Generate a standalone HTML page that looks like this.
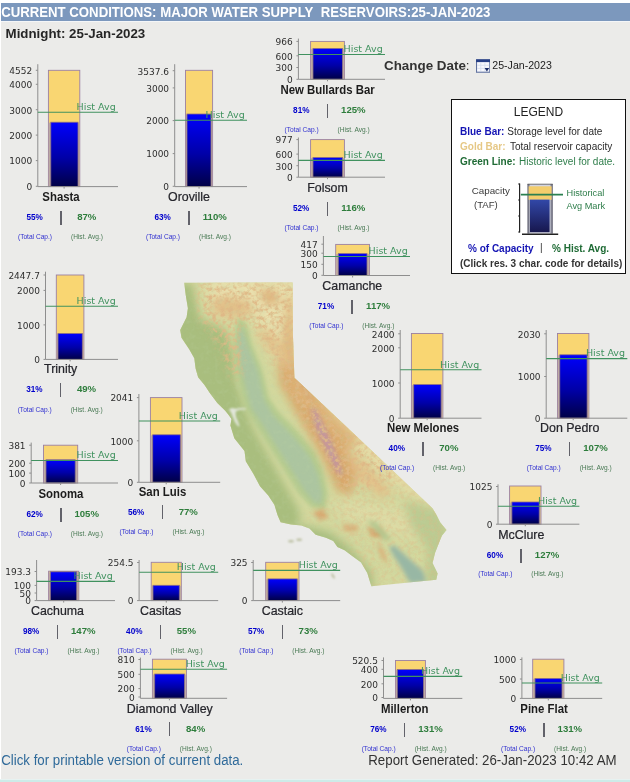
<!DOCTYPE html>
<html lang="en"><head><meta charset="utf-8"><title>Current Conditions: Major Water Supply Reservoirs</title>
<style>
html,body{margin:0;padding:0}
body{width:630px;height:782px;position:relative;overflow:hidden;background:#fff;font-family:"Liberation Sans",sans-serif;color:#222}
#pg{position:absolute;left:1px;top:3px;width:629px;height:777px;background:#ebebe9}
#bot{position:absolute;left:0;top:778.8px;width:630px;height:3.2px;background:linear-gradient(#e6f2f1 0,#e6f2f1 0.9px,#cdebe8 0.9px)}
#hd{position:absolute;left:1px;top:3px;width:629px;height:18px;background:#7c98bd;color:#fff;font-weight:bold;font-size:13.2px;line-height:18px;white-space:nowrap}
#hd span{display:inline-block;transform:scaleY(1.11);transform-origin:0 22%;padding-left:0.2px}
#hl{position:absolute;left:1px;top:21px;width:629px;height:1px;background:#f4f6f8}
#mid{position:absolute;left:5.6px;top:25.5px;font-weight:bold;font-size:13.3px;line-height:16px;white-space:nowrap;color:#262626}
.abs{position:absolute;white-space:nowrap}
.nm,.pc,.ph,.lc,.lh{position:absolute;white-space:nowrap;transform:translate(-50%,-50%);line-height:1}
.nm{font-size:11.4px;font-weight:bold;color:#1c1c1c}
.nm.b{transform:translate(-50%,-50%) scaleY(1.1)}
.nm.r{font-weight:normal;font-size:12.4px;color:#26262c;-webkit-text-stroke:0.22px #26262c}
.pc{font-size:8.2px;font-weight:bold;color:#0000cc}
.ph{font-size:9.6px;font-weight:bold;color:#2e7d3c}
.lc{font-size:6.6px;color:#3030d0}
.lh{font-size:6.6px;color:#4a7a55}
.sep{position:absolute;width:1.5px;height:14px;background:#62626a}
svg text.tk{font-family:"DejaVu Sans",sans-serif;font-size:9px;fill:#2e2e2e;text-anchor:end}
svg text.ha{font-family:"DejaVu Sans",sans-serif;font-size:9.5px;fill:#40925f;text-anchor:end}
#lg{position:absolute;left:451px;top:99px;width:173px;height:173px;border:1.3px solid #111;background:#fff}
#lg div{position:absolute;white-space:nowrap;line-height:1}
</style></head><body>
<div id="pg"></div>
<div id="hd"><span>CURRENT CONDITIONS: MAJOR WATER SUPPLY&nbsp; RESERVOIRS:25-JAN-2023</span></div>
<div id="hl"></div>
<div id="mid">Midnight: 25-Jan-2023</div>
<svg id="map" width="290" height="320" viewBox="170 275 290 320" style="position:absolute;left:170px;top:275px">
<defs>
<clipPath id="ca"><path id="cao" d="M184.2 282.8L292.7 282.5L293 337L294.4 377.8L340.4 421L432.5 508.2L436.5 515L440.1 522.2L446.5 529.9L442 535.5L440.1 540.1L435 552.9L432.5 563.1L437.6 573.4L436.3 579.7L371.4 586.3L370.4 583.2L367.3 572.9L361.1 562.5L352.9 556.4L344.6 550.2L337.4 547.1L333.3 540.9L326 537.8L315.7 534.7L309.5 528.5L301.3 525.4L291 524.4L280.6 522.3L277.5 515.1L274.4 504.8L268.3 495.5L260 486.2L253.5 474.1L245.8 461.3L244.5 451.1L234.3 438.3L230.4 425.6L231.5 419L228.3 414.4L225 410.6L217.3 402.9L209.6 392.7L204.5 385L198.1 377.3L195.6 368.4L194.3 358.2L189.2 349.2L181.5 337.7L180.2 330.1L186.6 317.3L187.9 308.3L185.8 295.6Z"/></clipPath>
<filter id="b3" x="-30%" y="-30%" width="160%" height="160%"><feGaussianBlur stdDeviation="2.2"/></filter>
<filter id="b5" x="-30%" y="-30%" width="160%" height="160%"><feGaussianBlur stdDeviation="4"/></filter>
<filter id="b8" x="-30%" y="-30%" width="160%" height="160%"><feGaussianBlur stdDeviation="7"/></filter>
<filter id="b2" x="-30%" y="-30%" width="160%" height="160%"><feGaussianBlur stdDeviation="0.9"/></filter>
<filter id="tx" x="0" y="0" width="100%" height="100%"><feTurbulence type="fractalNoise" baseFrequency="0.24" numOctaves="3" seed="11"/><feColorMatrix type="matrix" values="0 0 0 0 0.74  0 0 0 0 0.48  0 0 0 0 0.24  3 0 0 0 -1.25"/></filter>
<filter id="tg" x="0" y="0" width="100%" height="100%"><feTurbulence type="fractalNoise" baseFrequency="0.2" numOctaves="2" seed="3"/><feColorMatrix type="matrix" values="0 0 0 0 0.52  0 0 0 0 0.66  0 0 0 0 0.38  0 2.4 0 0 -1.1"/></filter>
<mask id="mm"><g filter="url(#b5)">
<path fill="#fff" d="M196 283L296 283L296 378L345 425L400 476L390 492L360 500L345 498L322 455L298 415L280 380L262 340L248 322L238 330L244 372L232 380L215 340L200 320Z"/>
<path fill="#666" d="M330 500L400 476L436 510L446 530L436 580L372 586L350 550L330 520L300 520Z"/>
</g></mask>
</defs>
<g clip-path="url(#ca)">
<rect x="170" y="275" width="290" height="320" fill="#d3d89e"/>
<!-- pale tan regions -->
<g filter="url(#b8)">
<path d="M205 278L300 278L300 380L285 372L262 330L248 310L224 316L208 300Z" fill="#e9e0ae"/>
<path d="M264 338L300 380L345 440L372 470L420 500L450 520L450 470L300 340Z" fill="#e6dba6"/>
<path d="M335 498L380 505L430 520L430 540L380 530L338 515Z" fill="#dedca6"/>
</g>
<!-- coast green -->
<g filter="url(#b5)">
<path d="M176 283L192 283L200 318L226 330L234 352L236 380L244 404L254 430L272 462L290 494L300 512L298 530L270 525L240 470L220 420L195 385L174 340Z" fill="#a9be7e"/>
<path d="M300 524L330 532L350 547L372 572L374 590L360 590L340 557L300 537Z" fill="#a8be80"/>
<path d="M404 500L440 510L452 540L440 585L424 588L428 550L410 525Z" fill="#bccb92"/>
</g>
<!-- valley outer green -->
<g filter="url(#b3)">
<path d="M237.5 316L234 346L236 372L242 397L246 410L257 428L271 450L285 472L298 493L311 507L325 510L327.5 494L323 470L315 452L298 432L278 411L268.5 397L262.5 371L252 345L246 323Z" fill="#b5cb8e"/>
</g>
<!-- mountains orange -->
<g filter="url(#b5)">
<path d="M276 346L292 350L316 390L342 426L358 466L352 494L338 492L322 456L298 416L280 384Z" fill="#d9a86a"/><path d="M284 318L294 314L296 378L330 412L360 440L350 446L318 420L292 392L284 360Z" fill="#deb276"/>
<path d="M209 302L225 296L248 301L256 311L246 315L228 318L214 313Z" fill="#e2c088"/>
<path d="M257 291L275 290L280 302L268 305Z" fill="#deb279"/>
<path d="M285 300L293 296L296 350L290 340Z" fill="#e2bc82"/>
<path d="M256 328L272 332L288 352L290 370L278 360L262 342Z" fill="#e3c48c"/>
<path d="M342 442L372 470L392 492L382 498L358 480Z" fill="#e3c28a"/>
</g>
<g filter="url(#b3)">
<path d="M310.5 408L316.5 410L330 438L339 460L343 476L337.5 474L326.5 452L315.5 428Z" fill="#c5969c"/>
<path d="M298 376L305 382L314 404L308 400Z" fill="#d8aa76"/>
<path d="M313 512L322 509L329 516L320 521Z" fill="#d8a870"/>
<path d="M342 525L356 525L359 531L345 531Z" fill="#daac74"/>
<path d="M367 527L381 529L385 537L372 537Z" fill="#d6a066"/>
<path d="M376 542L383 549L388 564L382 559Z" fill="#d8b078"/>
<path d="M239 342L244 349L247 368L242 362Z" fill="#dcc48e"/>
</g>
<!-- central valley inner -->
<g filter="url(#b3)">
<path d="M239.5 326L238 346L241 370L247.5 395L251 408L262 424L276 446L290 468L304 490L314 502L321 504L322.5 494L318 474L309.5 456L293 436L273 415L264 399L258.5 372L249 348L243.5 331Z" fill="#acc5a0"/>
</g>
<rect x="170" y="275" width="290" height="320" filter="url(#tx)" opacity="0.95" mask="url(#mm)"/>
<rect x="170" y="275" width="290" height="320" filter="url(#tg)" opacity="0.22"/>
<!-- salton trough -->
<g filter="url(#b3)">
<path d="M389 546L395 546L406 556L423 571L426 582L410 583L401 567L392 553Z" fill="#98b7a4"/>
<path d="M366 520L376 522L392 540L384 540Z" fill="#b4c890"/>
</g>
<!-- SF bay -->
<g filter="url(#b2)">
<path d="M229 409.3L232 408L236 408.8L240 408L246 408.2L246 409.4L240 409.8L236.5 411L235.5 412.5L236 417L238 421.5L239.5 426L238.3 426.5L235.3 422.5L233 417.5L231.3 413Z" fill="#e2e6da"/>
</g>
</g>
<g filter="url(#b2)" fill="#bcc0a2"><ellipse cx="291" cy="541.3" rx="3" ry="1.3"/><ellipse cx="299.2" cy="539.8" rx="3" ry="1.3"/><ellipse cx="333" cy="576" rx="1.2" ry="3" transform="rotate(-30 333 576)"/></g>
</svg>

<svg id="ch" width="630" height="782" viewBox="0 0 630 782" style="position:absolute;left:0;top:0">
<defs><linearGradient id="bg" x1="0" y1="0" x2="0" y2="1"><stop offset="0" stop-color="#0202fc"/><stop offset="0.1" stop-color="#0000ee"/><stop offset="0.55" stop-color="#0000a8"/><stop offset="1" stop-color="#000046"/></linearGradient></defs>
<g><rect x="48.4" y="70.3" width="31.4" height="116.3" fill="#f9d672" stroke="#9b80a2" stroke-width="0.9"/><rect x="48.8" y="122.7" width="30.6" height="63.9" fill="#b3a3ab" opacity="0.85"/><rect x="50.8" y="122.2" width="27.2" height="64.4" fill="url(#bg)" stroke="#8a6e86" stroke-width="0.8"/><path d="M37.8 64.2V186.6H118" fill="none" stroke="#8e8e8e" stroke-width="1"/><path d="M64.1 186.6v2" stroke="#8e8e8e" stroke-width="1"/><path d="M35.8 70.3h2" stroke="#8e8e8e" stroke-width="1"/><text class="tk" x="32.2" y="74.1">4552</text><path d="M35.8 84.3h2" stroke="#8e8e8e" stroke-width="1"/><text class="tk" x="32.2" y="88.1">4000</text><path d="M35.8 109.7h2" stroke="#8e8e8e" stroke-width="1"/><text class="tk" x="32.2" y="113.5">3000</text><path d="M35.8 135.1h2" stroke="#8e8e8e" stroke-width="1"/><text class="tk" x="32.2" y="138.9">2000</text><path d="M35.8 160.6h2" stroke="#8e8e8e" stroke-width="1"/><text class="tk" x="32.2" y="164.4">1000</text><path d="M35.8 186.3h2" stroke="#8e8e8e" stroke-width="1"/><text class="tk" x="32.2" y="190.1">0</text><path d="M37.8 112.3H118" stroke="#40925f" stroke-width="1.1"/><text class="ha" x="115.7" y="110">Hist Avg</text></g>
<g><rect x="185.5" y="70.3" width="27.1" height="116.3" fill="#f9d672" stroke="#9b80a2" stroke-width="0.9"/><rect x="185.9" y="114.5" width="26.3" height="72.1" fill="#b3a3ab" opacity="0.85"/><rect x="187" y="114" width="24" height="72.6" fill="url(#bg)" stroke="#8a6e86" stroke-width="0.8"/><path d="M174.7 64.2V186.6H247" fill="none" stroke="#8e8e8e" stroke-width="1"/><path d="M199.05 186.6v2" stroke="#8e8e8e" stroke-width="1"/><path d="M172.7 70.7h2" stroke="#8e8e8e" stroke-width="1"/><text class="tk" x="169.1" y="74.5">3537.6</text><path d="M172.7 87.9h2" stroke="#8e8e8e" stroke-width="1"/><text class="tk" x="169.1" y="91.7">3000</text><path d="M172.7 120.6h2" stroke="#8e8e8e" stroke-width="1"/><text class="tk" x="169.1" y="124.4">2000</text><path d="M172.7 153.6h2" stroke="#8e8e8e" stroke-width="1"/><text class="tk" x="169.1" y="157.4">1000</text><path d="M172.7 186.3h2" stroke="#8e8e8e" stroke-width="1"/><text class="tk" x="169.1" y="190.1">0</text><path d="M174.7 120.3H247" stroke="#40925f" stroke-width="1.1"/><text class="ha" x="244.7" y="118">Hist Avg</text></g>
<g><rect x="310.6" y="41.4" width="33.8" height="37.9" fill="#f9d672" stroke="#9b80a2" stroke-width="0.9"/><rect x="311" y="48.9" width="33" height="30.4" fill="#b3a3ab" opacity="0.85"/><rect x="313" y="48.4" width="29.4" height="30.9" fill="url(#bg)" stroke="#8a6e86" stroke-width="0.8"/><path d="M298.4 38.6V79.3H385" fill="none" stroke="#8e8e8e" stroke-width="1"/><path d="M327.5 79.3v2" stroke="#8e8e8e" stroke-width="1"/><path d="M296.4 41.4h2" stroke="#8e8e8e" stroke-width="1"/><text class="tk" x="292.8" y="45.2">966</text><path d="M296.4 55.8h2" stroke="#8e8e8e" stroke-width="1"/><text class="tk" x="292.8" y="59.6">600</text><path d="M296.4 67.5h2" stroke="#8e8e8e" stroke-width="1"/><text class="tk" x="292.8" y="71.3">300</text><path d="M296.4 79.3h2" stroke="#8e8e8e" stroke-width="1"/><text class="tk" x="292.8" y="83.1">0</text><path d="M298.4 54.5H385" stroke="#40925f" stroke-width="1.1"/><text class="ha" x="382.7" y="52.2">Hist Avg</text></g>
<g><rect x="310.6" y="139.6" width="33.8" height="37.6" fill="#f9d672" stroke="#9b80a2" stroke-width="0.9"/><rect x="311" y="158" width="33" height="19.2" fill="#b3a3ab" opacity="0.85"/><rect x="313" y="157.5" width="29.4" height="19.7" fill="url(#bg)" stroke="#8a6e86" stroke-width="0.8"/><path d="M298.4 137.5V177.2H385" fill="none" stroke="#8e8e8e" stroke-width="1"/><path d="M327.5 177.2v2" stroke="#8e8e8e" stroke-width="1"/><path d="M296.4 139.6h2" stroke="#8e8e8e" stroke-width="1"/><text class="tk" x="292.8" y="143.4">977</text><path d="M296.4 154.1h2" stroke="#8e8e8e" stroke-width="1"/><text class="tk" x="292.8" y="157.9">600</text><path d="M296.4 165.7h2" stroke="#8e8e8e" stroke-width="1"/><text class="tk" x="292.8" y="169.5">300</text><path d="M296.4 177.2h2" stroke="#8e8e8e" stroke-width="1"/><text class="tk" x="292.8" y="181">0</text><path d="M298.4 160.4H385" stroke="#40925f" stroke-width="1.1"/><text class="ha" x="382.7" y="158.1">Hist Avg</text></g>
<g><rect x="335.7" y="244.4" width="33.8" height="31.1" fill="#f9d672" stroke="#9b80a2" stroke-width="0.9"/><rect x="336.1" y="254.1" width="33" height="21.4" fill="#b3a3ab" opacity="0.85"/><rect x="338.3" y="253.6" width="28.7" height="21.9" fill="url(#bg)" stroke="#8a6e86" stroke-width="0.8"/><path d="M323.4 236V275.5H410" fill="none" stroke="#8e8e8e" stroke-width="1"/><path d="M352.6 275.5v2" stroke="#8e8e8e" stroke-width="1"/><path d="M321.4 244.2h2" stroke="#8e8e8e" stroke-width="1"/><text class="tk" x="317.8" y="248">417</text><path d="M321.4 253.2h2" stroke="#8e8e8e" stroke-width="1"/><text class="tk" x="317.8" y="257">300</text><path d="M321.4 264.3h2" stroke="#8e8e8e" stroke-width="1"/><text class="tk" x="317.8" y="268.1">150</text><path d="M321.4 275.3h2" stroke="#8e8e8e" stroke-width="1"/><text class="tk" x="317.8" y="279.1">0</text><path d="M323.4 256.5H410" stroke="#40925f" stroke-width="1.1"/><text class="ha" x="407.7" y="254.2">Hist Avg</text></g>
<g><rect x="56.3" y="275" width="27.6" height="84.4" fill="#f9d672" stroke="#9b80a2" stroke-width="0.9"/><rect x="56.7" y="334" width="26.8" height="25.4" fill="#b3a3ab" opacity="0.85"/><rect x="58" y="333.5" width="24.3" height="25.9" fill="url(#bg)" stroke="#8a6e86" stroke-width="0.8"/><path d="M45.5 271.7V359.4H118" fill="none" stroke="#8e8e8e" stroke-width="1"/><path d="M70.1 359.4v2" stroke="#8e8e8e" stroke-width="1"/><path d="M43.5 275h2" stroke="#8e8e8e" stroke-width="1"/><text class="tk" x="39.9" y="278.8">2447.7</text><path d="M43.5 290.4h2" stroke="#8e8e8e" stroke-width="1"/><text class="tk" x="39.9" y="294.2">2000</text><path d="M43.5 324.9h2" stroke="#8e8e8e" stroke-width="1"/><text class="tk" x="39.9" y="328.7">1000</text><path d="M43.5 359.4h2" stroke="#8e8e8e" stroke-width="1"/><text class="tk" x="39.9" y="363.2">0</text><path d="M45.5 306.3H118" stroke="#40925f" stroke-width="1.1"/><text class="ha" x="115.7" y="304">Hist Avg</text></g>
<g><rect x="43.5" y="445.2" width="34.2" height="37.8" fill="#f9d672" stroke="#9b80a2" stroke-width="0.9"/><rect x="43.9" y="460.3" width="33.4" height="22.7" fill="#b3a3ab" opacity="0.85"/><rect x="46" y="459.8" width="29.2" height="23.2" fill="url(#bg)" stroke="#8a6e86" stroke-width="0.8"/><path d="M31.2 442.6V483H118" fill="none" stroke="#8e8e8e" stroke-width="1"/><path d="M60.6 483v2" stroke="#8e8e8e" stroke-width="1"/><path d="M29.2 445.2h2" stroke="#8e8e8e" stroke-width="1"/><text class="tk" x="25.6" y="449">381</text><path d="M29.2 463.2h2" stroke="#8e8e8e" stroke-width="1"/><text class="tk" x="25.6" y="467">200</text><path d="M29.2 473.1h2" stroke="#8e8e8e" stroke-width="1"/><text class="tk" x="25.6" y="476.9">100</text><path d="M29.2 483h2" stroke="#8e8e8e" stroke-width="1"/><text class="tk" x="25.6" y="486.8">0</text><path d="M31.2 460.5H118" stroke="#40925f" stroke-width="1.1"/><text class="ha" x="115.7" y="458.2">Hist Avg</text></g>
<g><rect x="150.4" y="397.6" width="31.6" height="84.7" fill="#f9d672" stroke="#9b80a2" stroke-width="0.9"/><rect x="150.8" y="435.3" width="30.8" height="47" fill="#b3a3ab" opacity="0.85"/><rect x="152.7" y="434.8" width="27.6" height="47.5" fill="url(#bg)" stroke="#8a6e86" stroke-width="0.8"/><path d="M138.9 394V482.3H220.2" fill="none" stroke="#8e8e8e" stroke-width="1"/><path d="M166.2 482.3v2" stroke="#8e8e8e" stroke-width="1"/><path d="M136.9 397.6h2" stroke="#8e8e8e" stroke-width="1"/><text class="tk" x="133.3" y="401.4">2041</text><path d="M136.9 440.8h2" stroke="#8e8e8e" stroke-width="1"/><text class="tk" x="133.3" y="444.6">1000</text><path d="M136.9 482.3h2" stroke="#8e8e8e" stroke-width="1"/><text class="tk" x="133.3" y="486.1">0</text><path d="M138.9 421H220.2" stroke="#40925f" stroke-width="1.1"/><text class="ha" x="217.9" y="418.7">Hist Avg</text></g>
<g><rect x="48.6" y="571.2" width="30.2" height="29.4" fill="#f9d672" stroke="#9b80a2" stroke-width="0.9"/><rect x="49" y="572.3" width="29.4" height="28.3" fill="#b3a3ab" opacity="0.85"/><rect x="50.4" y="571.8" width="26.3" height="28.8" fill="url(#bg)" stroke="#8a6e86" stroke-width="0.8"/><path d="M36.6 560V600.6H115" fill="none" stroke="#8e8e8e" stroke-width="1"/><path d="M63.7 600.6v2" stroke="#8e8e8e" stroke-width="1"/><path d="M34.6 571.5h2" stroke="#8e8e8e" stroke-width="1"/><text class="tk" x="31" y="575.3">193.3</text><path d="M34.6 585.4h2" stroke="#8e8e8e" stroke-width="1"/><text class="tk" x="31" y="589.2">100</text><path d="M34.6 593h2" stroke="#8e8e8e" stroke-width="1"/><text class="tk" x="31" y="596.8">50</text><path d="M34.6 600.6h2" stroke="#8e8e8e" stroke-width="1"/><text class="tk" x="31" y="604.4">0</text><path d="M36.6 581.4H115" stroke="#40925f" stroke-width="1.1"/><text class="ha" x="112.7" y="579.1">Hist Avg</text></g>
<g><rect x="151.2" y="562.3" width="30.1" height="38.3" fill="#f9d672" stroke="#9b80a2" stroke-width="0.9"/><rect x="151.6" y="585.8" width="29.3" height="14.8" fill="#b3a3ab" opacity="0.85"/><rect x="153" y="585.3" width="26.3" height="15.3" fill="url(#bg)" stroke="#8a6e86" stroke-width="0.8"/><path d="M139.1 560V600.6H218.2" fill="none" stroke="#8e8e8e" stroke-width="1"/><path d="M166.25 600.6v2" stroke="#8e8e8e" stroke-width="1"/><path d="M137.1 562.5h2" stroke="#8e8e8e" stroke-width="1"/><text class="tk" x="133.5" y="566.3">254.5</text><path d="M137.1 600.6h2" stroke="#8e8e8e" stroke-width="1"/><text class="tk" x="133.5" y="604.4">0</text><path d="M139.1 572.2H218.2" stroke="#40925f" stroke-width="1.1"/><text class="ha" x="215.9" y="569.9">Hist Avg</text></g>
<g><rect x="265.7" y="562.3" width="33.3" height="38.3" fill="#f9d672" stroke="#9b80a2" stroke-width="0.9"/><rect x="266.1" y="579.4" width="32.5" height="21.2" fill="#b3a3ab" opacity="0.85"/><rect x="268" y="578.9" width="29.2" height="21.7" fill="url(#bg)" stroke="#8a6e86" stroke-width="0.8"/><path d="M253.2 560V600.6H340.2" fill="none" stroke="#8e8e8e" stroke-width="1"/><path d="M282.35 600.6v2" stroke="#8e8e8e" stroke-width="1"/><path d="M251.2 562.5h2" stroke="#8e8e8e" stroke-width="1"/><text class="tk" x="247.6" y="566.3">325</text><path d="M251.2 600.6h2" stroke="#8e8e8e" stroke-width="1"/><text class="tk" x="247.6" y="604.4">0</text><path d="M253.2 570.4H340.2" stroke="#40925f" stroke-width="1.1"/><text class="ha" x="337.9" y="568.1">Hist Avg</text></g>
<g><rect x="152.4" y="659.2" width="34" height="39.1" fill="#f9d672" stroke="#9b80a2" stroke-width="0.9"/><rect x="152.8" y="674.5" width="33.2" height="23.8" fill="#b3a3ab" opacity="0.85"/><rect x="154.7" y="674" width="29.7" height="24.3" fill="url(#bg)" stroke="#8a6e86" stroke-width="0.8"/><path d="M140.4 657.6V698.3H227.1" fill="none" stroke="#8e8e8e" stroke-width="1"/><path d="M169.4 698.3v2" stroke="#8e8e8e" stroke-width="1"/><path d="M138.4 659.5h2" stroke="#8e8e8e" stroke-width="1"/><text class="tk" x="134.8" y="663.3">810</text><path d="M138.4 674.3h2" stroke="#8e8e8e" stroke-width="1"/><text class="tk" x="134.8" y="678.1">500</text><path d="M138.4 688.6h2" stroke="#8e8e8e" stroke-width="1"/><text class="tk" x="134.8" y="692.4">200</text><path d="M138.4 697h2" stroke="#8e8e8e" stroke-width="1"/><text class="tk" x="134.8" y="700.8">0</text><path d="M140.4 669.2H227.1" stroke="#40925f" stroke-width="1.1"/><text class="ha" x="224.8" y="666.9">Hist Avg</text></g>
<g><rect x="411.4" y="333.5" width="31.5" height="84.7" fill="#f9d672" stroke="#9b80a2" stroke-width="0.9"/><rect x="411.8" y="385.1" width="30.7" height="33.1" fill="#b3a3ab" opacity="0.85"/><rect x="413.7" y="384.6" width="27.4" height="33.6" fill="url(#bg)" stroke="#8a6e86" stroke-width="0.8"/><path d="M400.2 330V418.2H481.5" fill="none" stroke="#8e8e8e" stroke-width="1"/><path d="M427.15 418.2v2" stroke="#8e8e8e" stroke-width="1"/><path d="M398.2 333.8h2" stroke="#8e8e8e" stroke-width="1"/><text class="tk" x="394.6" y="337.6">2400</text><path d="M398.2 347.8h2" stroke="#8e8e8e" stroke-width="1"/><text class="tk" x="394.6" y="351.6">2000</text><path d="M398.2 383h2" stroke="#8e8e8e" stroke-width="1"/><text class="tk" x="394.6" y="386.8">1000</text><path d="M398.2 418.2h2" stroke="#8e8e8e" stroke-width="1"/><text class="tk" x="394.6" y="422">0</text><path d="M400.2 369.8H481.5" stroke="#40925f" stroke-width="1.1"/><text class="ha" x="479.2" y="367.5">Hist Avg</text></g>
<g><rect x="557.5" y="333.5" width="31.4" height="84.7" fill="#f9d672" stroke="#9b80a2" stroke-width="0.9"/><rect x="557.9" y="355.3" width="30.6" height="62.9" fill="#b3a3ab" opacity="0.85"/><rect x="559.8" y="354.8" width="27.3" height="63.4" fill="url(#bg)" stroke="#8a6e86" stroke-width="0.8"/><path d="M546.2 330V418.2H627.3" fill="none" stroke="#8e8e8e" stroke-width="1"/><path d="M573.2 418.2v2" stroke="#8e8e8e" stroke-width="1"/><path d="M544.2 333.8h2" stroke="#8e8e8e" stroke-width="1"/><text class="tk" x="540.6" y="337.6">2030</text><path d="M544.2 376.5h2" stroke="#8e8e8e" stroke-width="1"/><text class="tk" x="540.6" y="380.3">1000</text><path d="M544.2 418.2h2" stroke="#8e8e8e" stroke-width="1"/><text class="tk" x="540.6" y="422">0</text><path d="M546.2 358.6H627.3" stroke="#40925f" stroke-width="1.1"/><text class="ha" x="625" y="356.3">Hist Avg</text></g>
<g><rect x="509.6" y="486" width="31.4" height="38.2" fill="#f9d672" stroke="#9b80a2" stroke-width="0.9"/><rect x="510" y="502.5" width="30.6" height="21.7" fill="#b3a3ab" opacity="0.85"/><rect x="511.9" y="502" width="27.3" height="22.2" fill="url(#bg)" stroke="#8a6e86" stroke-width="0.8"/><path d="M498 484.3V524.2H579.4" fill="none" stroke="#8e8e8e" stroke-width="1"/><path d="M525.3 524.2v2" stroke="#8e8e8e" stroke-width="1"/><path d="M496 486.5h2" stroke="#8e8e8e" stroke-width="1"/><text class="tk" x="492.4" y="490.3">1025</text><path d="M496 524.2h2" stroke="#8e8e8e" stroke-width="1"/><text class="tk" x="492.4" y="528">0</text><path d="M498 506.3H579.4" stroke="#40925f" stroke-width="1.1"/><text class="ha" x="577.1" y="504">Hist Avg</text></g>
<g><rect x="395.5" y="660.5" width="29.9" height="37.9" fill="#f9d672" stroke="#9b80a2" stroke-width="0.9"/><rect x="395.9" y="670" width="29.1" height="28.4" fill="#b3a3ab" opacity="0.85"/><rect x="397.3" y="669.5" width="26.1" height="28.9" fill="url(#bg)" stroke="#8a6e86" stroke-width="0.8"/><path d="M383.5 657.4V698.4H462.3" fill="none" stroke="#8e8e8e" stroke-width="1"/><path d="M410.45 698.4v2" stroke="#8e8e8e" stroke-width="1"/><path d="M381.5 660.5h2" stroke="#8e8e8e" stroke-width="1"/><text class="tk" x="377.9" y="664.3">520.5</text><path d="M381.5 669.3h2" stroke="#8e8e8e" stroke-width="1"/><text class="tk" x="377.9" y="673.1">400</text><path d="M381.5 683.8h2" stroke="#8e8e8e" stroke-width="1"/><text class="tk" x="377.9" y="687.6">200</text><path d="M381.5 697.5h2" stroke="#8e8e8e" stroke-width="1"/><text class="tk" x="377.9" y="701.3">0</text><path d="M383.5 676.4H462.3" stroke="#40925f" stroke-width="1.1"/><text class="ha" x="460" y="674.1">Hist Avg</text></g>
<g><rect x="532.7" y="659.2" width="31.2" height="39.2" fill="#f9d672" stroke="#9b80a2" stroke-width="0.9"/><rect x="533.1" y="678.9" width="30.4" height="19.5" fill="#b3a3ab" opacity="0.85"/><rect x="535" y="678.4" width="27" height="20" fill="url(#bg)" stroke="#8a6e86" stroke-width="0.8"/><path d="M521.9 657.4V698.4H602.2" fill="none" stroke="#8e8e8e" stroke-width="1"/><path d="M548.3 698.4v2" stroke="#8e8e8e" stroke-width="1"/><path d="M519.9 659.5h2" stroke="#8e8e8e" stroke-width="1"/><text class="tk" x="516.3" y="663.3">1000</text><path d="M519.9 679h2" stroke="#8e8e8e" stroke-width="1"/><text class="tk" x="516.3" y="682.8">500</text><path d="M519.9 698.4h2" stroke="#8e8e8e" stroke-width="1"/><text class="tk" x="516.3" y="702.2">0</text><path d="M521.9 683H602.2" stroke="#40925f" stroke-width="1.1"/><text class="ha" x="599.9" y="680.7">Hist Avg</text></g>
</svg>
<div class="nm b" style="left:61px;top:197.3px">Shasta</div>
<div class="pc" style="left:34.7px;top:218.1px">55%</div>
<div class="sep" style="left:60.1px;top:210.5px"></div>
<div class="ph" style="left:86.8px;top:216.9px">87%</div>
<div class="lc" style="left:35px;top:236.6px">(Total Cap.)</div>
<div class="lh" style="left:87px;top:236.6px">(Hist. Avg.)</div>
<div class="nm r" style="left:189px;top:196.8px">Oroville</div>
<div class="pc" style="left:162.7px;top:218.1px">63%</div>
<div class="sep" style="left:188.1px;top:211.1px"></div>
<div class="ph" style="left:214.8px;top:216.9px">110%</div>
<div class="lc" style="left:163px;top:236.6px">(Total Cap.)</div>
<div class="lh" style="left:215px;top:236.6px">(Hist. Avg.)</div>
<div class="nm b" style="left:327.6px;top:90px">New Bullards Bar</div>
<div class="pc" style="left:301.3px;top:110.6px">81%</div>
<div class="sep" style="left:326.7px;top:103.6px"></div>
<div class="ph" style="left:353.4px;top:110.2px">125%</div>
<div class="lc" style="left:301.6px;top:129.9px">(Total Cap.)</div>
<div class="lh" style="left:353.6px;top:129.9px">(Hist. Avg.)</div>
<div class="nm r" style="left:327.5px;top:187.5px">Folsom</div>
<div class="pc" style="left:301.2px;top:208.5px">52%</div>
<div class="sep" style="left:326.6px;top:201.5px"></div>
<div class="ph" style="left:353.3px;top:208.1px">116%</div>
<div class="lc" style="left:301.5px;top:227.8px">(Total Cap.)</div>
<div class="lh" style="left:353.5px;top:227.8px">(Hist. Avg.)</div>
<div class="nm r" style="left:352.3px;top:285.9px">Camanche</div>
<div class="pc" style="left:326px;top:306.8px">71%</div>
<div class="sep" style="left:351.4px;top:299.8px"></div>
<div class="ph" style="left:378.1px;top:306.4px">117%</div>
<div class="lc" style="left:326.3px;top:326.1px">(Total Cap.)</div>
<div class="lh" style="left:378.3px;top:326.1px">(Hist. Avg.)</div>
<div class="nm r" style="left:60.7px;top:369.1px">Trinity</div>
<div class="pc" style="left:34.4px;top:389.7px">31%</div>
<div class="sep" style="left:59.8px;top:382.8px"></div>
<div class="ph" style="left:86.5px;top:389.1px">49%</div>
<div class="lc" style="left:34.7px;top:410px">(Total Cap.)</div>
<div class="lh" style="left:86.7px;top:410px">(Hist. Avg.)</div>
<div class="nm b" style="left:60.9px;top:493.7px">Sonoma</div>
<div class="pc" style="left:34.6px;top:514.7px">62%</div>
<div class="sep" style="left:60px;top:508px"></div>
<div class="ph" style="left:86.7px;top:513.9px">105%</div>
<div class="lc" style="left:34.9px;top:533.6px">(Total Cap.)</div>
<div class="lh" style="left:86.9px;top:533.6px">(Hist. Avg.)</div>
<div class="nm b" style="left:162.5px;top:492.3px">San Luis</div>
<div class="pc" style="left:136.2px;top:512.6px">56%</div>
<div class="sep" style="left:161.6px;top:505.4px"></div>
<div class="ph" style="left:188.3px;top:512.2px">77%</div>
<div class="lc" style="left:136.5px;top:531.9px">(Total Cap.)</div>
<div class="lh" style="left:188.5px;top:531.9px">(Hist. Avg.)</div>
<div class="nm r" style="left:57.5px;top:611px">Cachuma</div>
<div class="pc" style="left:31.2px;top:631.9px">98%</div>
<div class="sep" style="left:56.6px;top:624.9px"></div>
<div class="ph" style="left:83.3px;top:630.6px">147%</div>
<div class="lc" style="left:31.5px;top:651.2px">(Total Cap.)</div>
<div class="lh" style="left:83.5px;top:651.2px">(Hist. Avg.)</div>
<div class="nm r" style="left:160.6px;top:611px">Casitas</div>
<div class="pc" style="left:134.3px;top:631.9px">40%</div>
<div class="sep" style="left:159.7px;top:624.9px"></div>
<div class="ph" style="left:186.4px;top:630.6px">55%</div>
<div class="lc" style="left:134.6px;top:651.2px">(Total Cap.)</div>
<div class="lh" style="left:186.6px;top:651.2px">(Hist. Avg.)</div>
<div class="nm r" style="left:282.4px;top:611px">Castaic</div>
<div class="pc" style="left:256.1px;top:631.9px">57%</div>
<div class="sep" style="left:281.5px;top:624.9px"></div>
<div class="ph" style="left:308.2px;top:630.6px">73%</div>
<div class="lc" style="left:256.4px;top:651.2px">(Total Cap.)</div>
<div class="lh" style="left:308.4px;top:651.2px">(Hist. Avg.)</div>
<div class="nm r" style="left:169.8px;top:708.7px">Diamond Valley</div>
<div class="pc" style="left:143.5px;top:729.6px">61%</div>
<div class="sep" style="left:168.9px;top:722.1px"></div>
<div class="ph" style="left:195.6px;top:728.7px">84%</div>
<div class="lc" style="left:143.8px;top:748.9px">(Total Cap.)</div>
<div class="lh" style="left:195.8px;top:748.9px">(Hist. Avg.)</div>
<div class="nm b" style="left:423.1px;top:427.9px">New Melones</div>
<div class="pc" style="left:396.8px;top:448.5px">40%</div>
<div class="sep" style="left:422.2px;top:441.7px"></div>
<div class="ph" style="left:448.9px;top:447.7px">70%</div>
<div class="lc" style="left:397.1px;top:467.6px">(Total Cap.)</div>
<div class="lh" style="left:449.1px;top:467.6px">(Hist. Avg.)</div>
<div class="nm r" style="left:569.7px;top:427.6px">Don Pedro</div>
<div class="pc" style="left:543.4px;top:448.5px">75%</div>
<div class="sep" style="left:568.8px;top:441.7px"></div>
<div class="ph" style="left:595.5px;top:447.7px">107%</div>
<div class="lc" style="left:543.7px;top:467.6px">(Total Cap.)</div>
<div class="lh" style="left:595.7px;top:467.6px">(Hist. Avg.)</div>
<div class="nm r" style="left:521.3px;top:534.6px">McClure</div>
<div class="pc" style="left:495px;top:555.5px">60%</div>
<div class="sep" style="left:520.4px;top:548.5px"></div>
<div class="ph" style="left:547.1px;top:555.1px">127%</div>
<div class="lc" style="left:495.3px;top:574.4px">(Total Cap.)</div>
<div class="lh" style="left:547.3px;top:574.4px">(Hist. Avg.)</div>
<div class="nm b" style="left:404.7px;top:709.1px">Millerton</div>
<div class="pc" style="left:378.4px;top:729.7px">76%</div>
<div class="sep" style="left:403.8px;top:722.7px"></div>
<div class="ph" style="left:430.5px;top:729.3px">131%</div>
<div class="lc" style="left:378.7px;top:749px">(Total Cap.)</div>
<div class="lh" style="left:430.7px;top:749px">(Hist. Avg.)</div>
<div class="nm b" style="left:544.1px;top:709.1px">Pine Flat</div>
<div class="pc" style="left:517.8px;top:729.7px">52%</div>
<div class="sep" style="left:543.2px;top:722.7px"></div>
<div class="ph" style="left:569.9px;top:729.3px">131%</div>
<div class="lc" style="left:518.1px;top:749px">(Total Cap.)</div>
<div class="lh" style="left:570.1px;top:749px">(Hist. Avg.)</div>
<div class="abs" style="left:384px;top:58px;font-size:13.4px;line-height:16px;font-weight:bold;color:#333">Change Date<span style="font-weight:normal">:</span></div>
<svg width="14.8" height="14.2" viewBox="0 0 16 15" style="position:absolute;left:475.6px;top:58.5px">
<rect x="0.6" y="0.6" width="14.3" height="13.6" fill="#f7f8fc" stroke="#5a6c9c" stroke-width="1.1"/>
<rect x="0.1" y="0.3" width="15.3" height="2.9" fill="#263f86"/>
<path d="M1.2 6.6H14.2M1.2 10H14.2M5.2 3.4V13.6M9.6 3.4V13.6" stroke="#d5ddee" stroke-width="0.9"/>
<path d="M0.6 14.2H14.9" stroke="#8492b4" stroke-width="1.1"/>
<path d="M9.3 9.6h5l-2.5 3.7z" fill="#1a2c66"/>
</svg>
<div class="abs" style="left:492.3px;top:57.7px;font-size:10.6px;line-height:14px;color:#222">25-Jan-2023</div>
<div id="lg">
<div style="left:0;width:173px;text-align:center;top:5.6px;font-size:12px;color:#222">LEGEND</div>
<div style="left:8px;top:26.6px;font-size:10px;color:#2a2a2a"><b style="color:#1414b4">Blue Bar:</b> Storage level for date</div>
<div style="left:8px;top:41.5px;font-size:10px;color:#2a2a2a"><b style="color:#e6c886">Gold Bar:</b> <span style="margin-left:1.6px">Total reservoir capacity</span></div>
<div style="left:8px;top:56.5px;font-size:10px;color:#2e7d4a"><b style="color:#1f6b35">Green Line:</b> <span style="margin-left:0.6px">Historic level for date.</span></div>
<div style="left:19.7px;top:86px;font-size:9.8px;color:#3a3a3a">Capacity</div>
<div style="left:22px;top:100px;font-size:9.6px;color:#3a3a3a">(TAF)</div>
<div style="left:114.5px;top:88.5px;font-size:9.2px;color:#2e7d4a">Historical</div>
<div style="left:114.5px;top:101.9px;font-size:9.2px;color:#2e7d4a">Avg Mark</div>
<div style="left:16px;top:143.6px;font-size:10px;font-weight:bold;color:#1414b4">% of Capacity</div>
<div style="left:88px;top:143px;font-size:10px;color:#333">|</div>
<div style="left:100px;top:143.6px;font-size:10px;font-weight:bold;color:#1f6b35">% Hist. Avg.</div>
<div style="left:8px;top:159.1px;font-size:10px;font-weight:bold;color:#333">(Click res. 3 char. code for details)</div>
</div>
<svg width="60" height="60" viewBox="510 178 60 60" style="position:absolute;left:510px;top:178px">
<defs><linearGradient id="lgb" x1="0" y1="0" x2="0" y2="1"><stop offset="0" stop-color="#3248a8"/><stop offset="1" stop-color="#17174e"/></linearGradient>
<linearGradient id="lgs" x1="0" y1="0" x2="1" y2="0"><stop offset="0" stop-color="#4a4a5c"/><stop offset="0.12" stop-color="#d2d4e0"/><stop offset="0.88" stop-color="#d2d4e0"/><stop offset="1" stop-color="#4a4a5c"/></linearGradient></defs>
<rect x="527.5" y="184" width="25.2" height="49.6" fill="url(#lgs)"/>
<rect x="528.6" y="186.3" width="23" height="13.5" fill="#f3cd6c"/>
<rect x="530" y="199.6" width="19.6" height="32.6" fill="url(#lgb)"/>
<path d="M527.5 184.2H552.7" stroke="#555" stroke-width="0.8"/>
<path d="M519.6 183.5V232.5" stroke="#222" stroke-width="1.2"/>
<path d="M518 184h2M518 200h2M518 216h2M518 232h2" stroke="#222" stroke-width="0.8"/>
<path d="M522 234.2H558.2" stroke="#222" stroke-width="1.4"/>
<path d="M520.8 194.6H563" stroke="#2b8050" stroke-width="1.6"/>
</svg>
<div class="abs" style="left:1.2px;top:753px;font-size:13.29px;line-height:16px;color:#2f6a9a;transform:scaleY(1.07);transform-origin:0 78%">Click for printable version of current data.</div>
<div class="abs" style="right:13.4px;top:753px;font-size:13.3px;line-height:16px;color:#333;transform:scaleY(1.06);transform-origin:0 78%">Report Generated: 26-Jan-2023 10:42 AM</div>
<div id="bot"></div>
</body></html>
